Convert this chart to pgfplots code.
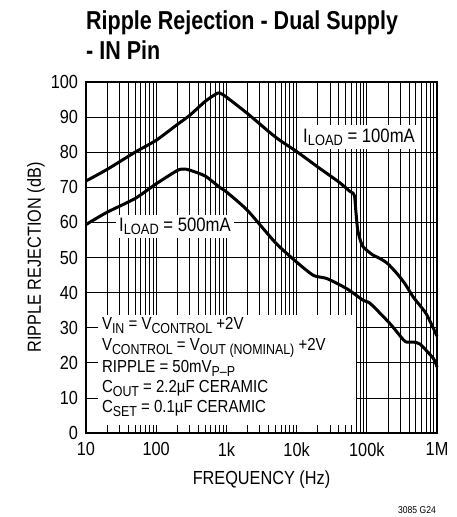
\documentclass[border=0pt]{standalone}
\usepackage{fontspec}
\setmainfont{Liberation Sans}[FakeStretch=0.86]
\newfontfamily\titlefont{Liberation Sans}[FakeStretch=0.83]
\usepackage{pgfplots}
\pgfplotsset{compat=1.18}
\newcommand\sub[1]{\raisebox{-3.5bp}{\fontsize{14.5}{15}\selectfont #1}}
\newcommand\subs[1]{\raisebox{-3.5bp}{\fontsize{15}{15}\selectfont #1}}
\begin{document}
\begin{tikzpicture}
\begin{axis}[name=ax, scale only axis, width=351bp, height=351bp,
  xmode=log, xmin=10, xmax=1e6, ymin=0, ymax=100,
  ytick={0,10,...,100},
  xtick={10,100,1000,10000,100000,1000000},
  xticklabels={10,100,1k,10k,100k,1M},
  grid=both,
  grid style={black, line width=0.8bp},
  minor grid style={black, line width=0.8bp},
  major grid style={black, line width=0.8bp},
  axis line style={line width=1.5bp},
  major tick length=0pt, minor tick length=0pt,
  /pgf/number format/assume math mode=true,
  tick label style={font=\fontsize{19}{20}\selectfont},
  xticklabel style={yshift=-6bp},
  yticklabel style={xshift=-4.5bp},
  clip=false,
]
\addplot[line width=3bp, black, smooth, tension=0.4] coordinates {
(10,71.8)(20,75.1)(50,80.0)(100,83.4)(200,87.9)(300,90.5)(500,94.5)(700,96.5)(800,96.9)(1000,95.7)(2000,91.0)(5000,84.3)(10000,80.2)(20000,75.8)(40000,71.5)(57000,68.9)(64000,68.3)(67000,67.5)(70000,63)(74000,58)(80000,55.2)(89000,53)(120000,50.8)(155000,49.7)(200000,48.2)(270000,45.4)(350000,42.5)(460000,38.7)(700000,34)(1000000,27.6)
};
\addplot[line width=3bp, black, smooth, tension=0.4] coordinates {
(10,59.4)(20,62.9)(50,66.8)(100,71)(200,74.8)(250,75.2)(300,74.9)(500,73.2)(800,70)(1000,68.7)(2000,63.4)(5000,54.2)(10000,48.7)(17400,44.9)(27000,44)(52000,41.1)(89000,37.8)(112000,36.9)(213000,31.2)(330000,26.6)(370000,25.9)(460000,25.9)(575000,25.3)(890000,21.2)(1000000,18.8)
};
\fill[white] (axis cs:14.8,2.2) rectangle (axis cs:70000,33.5);
\node[anchor=base, fill=white, inner sep=3bp, font=\fontsize{19.5}{20}\selectfont] at (axis cs:77500,82.9) {I\subs{LOAD} = 100mA};
\node[anchor=base, fill=white, inner sep=3bp, font=\fontsize{19.5}{20}\selectfont] at (axis cs:185,57.5) {I\subs{LOAD} = 500mA};
\begin{scope}[every node/.style={anchor=base west, inner sep=0pt, font=\fontsize{17.5}{18}\selectfont}]
\node at (axis cs:16.8,29.4) {V\sub{IN} = V\sub{CONTROL} +2V};
\node at (axis cs:16.8,23.5) {V\sub{CONTROL} = V\sub{OUT (NOMINAL)} +2V};
\node at (axis cs:16.8,17.2) {RIPPLE = 50mV\sub{P--P}};
\node at (axis cs:16.8,11.5) {C\sub{OUT} = 2.2µF CERAMIC};
\node at (axis cs:16.8,5.7) {C\sub{SET} = 0.1µF CERAMIC};
\end{scope}
\end{axis}
\node[anchor=base west, font=\titlefont\bfseries\fontsize{26}{27}\selectfont, inner sep=0pt] at ([yshift=52.5bp]ax.north west) {Ripple Rejection - Dual Supply};
\node[anchor=base west, font=\titlefont\bfseries\fontsize{26}{27}\selectfont, inner sep=0pt] at ([yshift=22bp]ax.north west) {- IN Pin};
\node[anchor=base, font=\fontsize{19}{20}\selectfont, inner sep=0pt] at ([yshift=-51bp]ax.south) {FREQUENCY (Hz)};
\node[anchor=base, rotate=90, font=\fontsize{19}{20}\selectfont, inner sep=0pt] at ([xshift=-45bp]ax.west) {RIPPLE REJECTION (dB)};
\node[anchor=base east, font=\fontsize{10}{10}\selectfont, inner sep=0pt] at ([xshift=-1bp,yshift=-80bp]ax.south east) {3085 G24};
\pgfresetboundingbox
\path ([shift={(-86bp,-84bp)}]ax.south west) rectangle ([shift={(20bp,82bp)}]ax.north east);
\end{tikzpicture}
\end{document}
